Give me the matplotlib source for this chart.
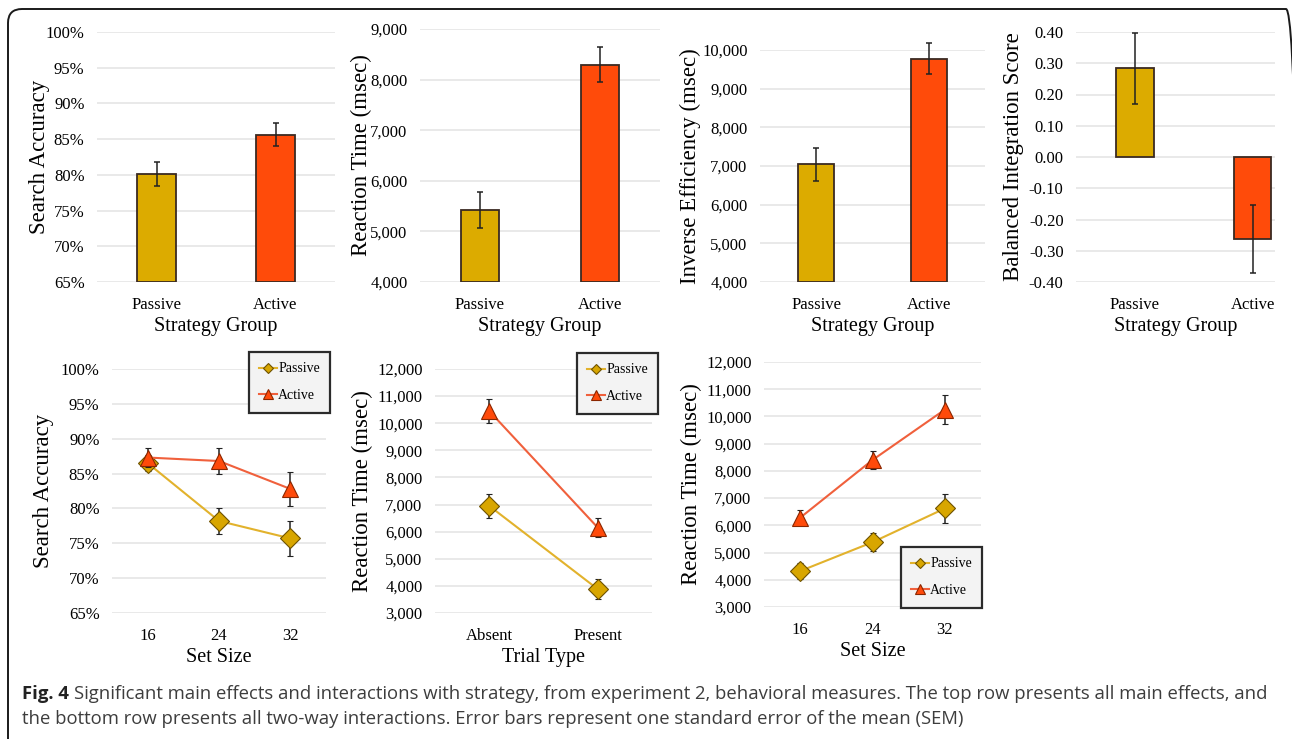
import matplotlib
matplotlib.use('Agg')
import matplotlib.pyplot as plt
import numpy as np
from matplotlib.patches import FancyBboxPatch
from matplotlib.transforms import IdentityTransform
from matplotlib.ticker import FuncFormatter

# ---- data ----
groups = ['Passive', 'Active']
acc_mean = [80.1, 85.6]
acc_sem = [1.7, 1.6]
rt_mean = [5420, 8290]
rt_sem = [360, 345]
ie_mean = [7040, 9780]
ie_sem = [430, 410]
bis_mean = [0.284, -0.262]
bis_sem = [0.113, 0.109]

set_sizes = ['16', '24', '32']
acc_set_passive = [86.5, 78.2, 75.7]
acc_set_passive_sem = [1.1, 1.9, 2.5]
acc_set_active = [87.3, 86.8, 82.8]
acc_set_active_sem = [1.3, 1.8, 2.4]

trial_types = ['Absent', 'Present']
rt_trial_passive = [6950, 3880]
rt_trial_passive_sem = [450, 370]
rt_trial_active = [10450, 6150]
rt_trial_active_sem = [440, 350]

rt_set_passive = [4320, 5380, 6620]
rt_set_passive_sem = [290, 340, 540]
rt_set_active = [6280, 8400, 10250]
rt_set_active_sem = [270, 340, 520]

W, H = 1292, 739
SERIF = 'Liberation Serif'
bar_colors = ['#DCAB00', '#FF4B0A']
grid_c = '#e9e9e9'

fig = plt.figure(figsize=(W / 100, H / 100), dpi=100)


def px_axes(l, t, r, b):
    return fig.add_axes([l / W, 1 - b / H, (r - l) / W, (b - t) / H])


def style(ax, ylab, ylab_right, xlab=None):
    for s in ax.spines.values():
        s.set_visible(False)
    ax.tick_params(length=0, labelsize=12, pad=9)
    ax.tick_params(axis='x', pad=11)
    for lab in ax.get_xticklabels() + ax.get_yticklabels():
        lab.set_fontfamily(SERIF)
    ax.yaxis.grid(True, color=grid_c, lw=1.4)
    ax.set_axisbelow(True)
    ax.set_ylabel(ylab, fontfamily=SERIF, fontsize=16.5)
    bb = ax.get_position()
    x_ax = (ylab_right / W - bb.x0) / bb.width
    ax.yaxis.set_label_coords(x_ax, 0.5)
    if xlab:
        ax.set_xlabel(xlab, fontfamily=SERIF, fontsize=14.5, labelpad=3)


pct = FuncFormatter(lambda v, p: f'{v:.0f}%')
comma = FuncFormatter(lambda v, p: f'{v:,.0f}')
dec = FuncFormatter(lambda v, p: '0.00' if abs(v) < 1e-9 else f'{v:.2f}')


def bar_panel(box, mean, sem, ylim, step, fmt, ylab, ylab_right, xmax=1.5, base=None):
    ax = px_axes(*box)
    x = np.arange(len(groups))
    b0 = ylim[0] if base is None else base
    heights = [m - b0 for m in mean]
    ax.bar(x, heights, bottom=b0, width=0.32, color=bar_colors,
           edgecolor='#3a2a22', lw=1.3, zorder=2)
    ax.errorbar(x, mean, yerr=sem, fmt='none', ecolor='#222222', elinewidth=1.1,
                capsize=2.5, capthick=1.1, zorder=3, clip_on=False)
    ax.set_xlim(-0.5, xmax)
    ax.set_ylim(*ylim)
    ax.set_yticks(np.arange(ylim[0], ylim[1] + step / 2, step))
    ax.yaxis.set_major_formatter(fmt)
    ax.set_xticks(x)
    ax.set_xticklabels(groups)
    style(ax, ylab, ylab_right, 'Strategy Group')
    return ax


bar_panel((97, 32, 335, 282), acc_mean, acc_sem, (65, 100), 5, pct,
          'Search Accuracy', 50)
bar_panel((420, 29, 660, 282), rt_mean, rt_sem, (4000, 9000), 1000, comma,
          'Reaction Time (msec)', 372)
bar_panel((760, 50, 985, 282), ie_mean, ie_sem, (4000, 10000), 1000, comma,
          'Inverse Efficiency (msec)', 701)
bar_panel((1076, 32, 1275, 282), bis_mean, bis_sem, (-0.4, 0.4), 0.1, dec,
          'Balanced Integration Score', 1024, xmax=1.19, base=0)


def line_panel(box, cats, p, ps, a, as_, ylim, step, fmt, ylab, ylab_right, xlab, leg_px):
    ax = px_axes(*box)
    x = np.arange(len(cats))
    ax.errorbar(x, p, yerr=ps, color='#E2B22C', lw=1.5, marker='D', ms=10,
                mfc='#D8A600', mec='#6e5200', mew=0.8, ecolor='#222222',
                elinewidth=1.1, capsize=2.5, capthick=1.1, label='Passive', zorder=3)
    ax.errorbar(x, a, yerr=as_, color='#F0603C', lw=1.5, marker='^', ms=12,
                mfc='#FF4A0A', mec='#8a2600', mew=0.8, ecolor='#222222',
                elinewidth=1.1, capsize=2.5, capthick=1.1, label='Active', zorder=4)
    ax.set_xlim(-0.5, len(cats) - 0.5)
    ax.set_ylim(*ylim)
    ax.set_yticks(np.arange(ylim[0], ylim[1] + step / 2, step))
    ax.yaxis.set_major_formatter(fmt)
    ax.set_xticks(x)
    ax.set_xticklabels(cats)
    style(ax, ylab, ylab_right, xlab)
    handles, labels = ax.get_legend_handles_labels()
    handles = [h[0] for h in handles]
    leg = ax.legend(handles, labels, loc='upper left',
                    bbox_to_anchor=(leg_px[0] / W, 1 - leg_px[1] / H),
                    bbox_transform=fig.transFigure, prop={'family': SERIF, 'size': 10},
                    handlelength=1.3, handletextpad=0.05, labelspacing=1.0,
                    borderpad=0.75, markerscale=0.55, fancybox=False, framealpha=1,
                    facecolor='#f3f3f3', edgecolor='#2b2b2b', borderaxespad=0)
    leg.get_frame().set_linewidth(1.6)
    return ax


line_panel((112, 369, 326, 613), set_sizes, acc_set_passive, acc_set_passive_sem,
           acc_set_active, acc_set_active_sem, (65, 100), 5, pct,
           'Search Accuracy', 54, 'Set Size', (249, 352))
line_panel((435, 369, 652, 613), trial_types, rt_trial_passive, rt_trial_passive_sem,
           rt_trial_active, rt_trial_active_sem, (3000, 12000), 1000, comma,
           'Reaction Time (msec)', 373, 'Trial Type', (577, 353))
line_panel((764, 362, 981, 607), set_sizes, rt_set_passive, rt_set_passive_sem,
           rt_set_active, rt_set_active_sem, (3000, 12000), 1000, comma,
           'Reaction Time (msec)', 702, 'Set Size', (901, 547))

# rounded frame round the figure panel (right side runs off the picture)
frame = FancyBboxPatch((8, -40), 1300 - 8, H - 9 + 40,
                       boxstyle='round,pad=0,rounding_size=14',
                       transform=IdentityTransform(), fill=False,
                       edgecolor='#1a1a1a', lw=1.4)
fig.add_artist(frame)

# caption
cap_c = '#3d3d3d'
cap_fs = 13.3
t1 = fig.text(22 / W, 1 - 694 / H, 'Fig. 4', fontfamily='Open Sans', fontweight='bold',
              fontsize=cap_fs, color='#222222', va='center')
fig.canvas.draw()
r = fig.canvas.get_renderer()
bb = t1.get_window_extent(r)
fig.text(bb.x1 / W + 5 / W, 1 - 694 / H,
         'Significant main effects and interactions with strategy, from experiment 2, '
         'behavioral measures. The top row presents all main effects, and',
         fontfamily='Open Sans', fontsize=cap_fs, color=cap_c, va='center')
fig.text(22 / W, 1 - 719 / H,
         'the bottom row presents all two-way interactions. Error bars represent one '
         'standard error of the mean (SEM)',
         fontfamily='Open Sans', fontsize=cap_fs, color=cap_c, va='center')

fig.savefig('out.png', dpi=100)
